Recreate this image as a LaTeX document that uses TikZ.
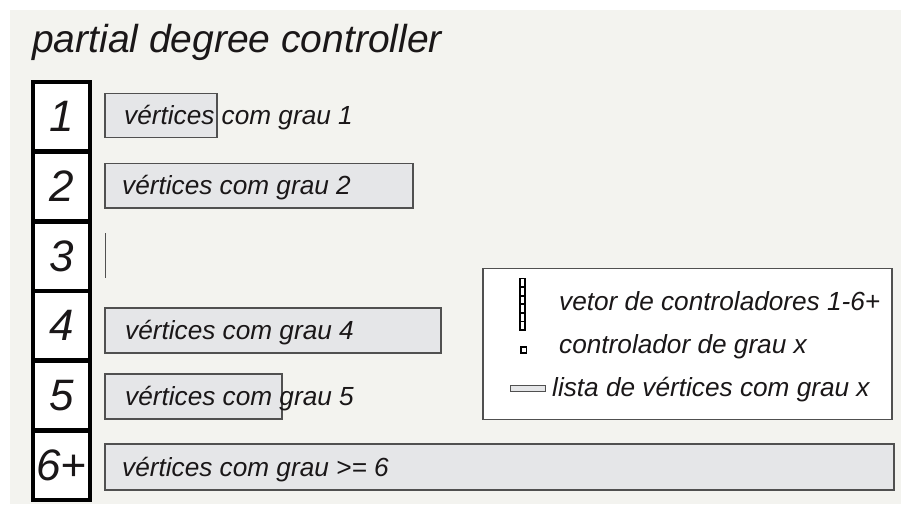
\documentclass[tikz,border=0pt]{standalone}
\usepackage{fontspec}
\setmainfont{Liberation Sans}
\definecolor{paper}{HTML}{F3F3EF}
\definecolor{listfill}{HTML}{E5E6E8}
\definecolor{listedge}{HTML}{505050}
\definecolor{ink}{HTML}{1A1718}
\begin{document}
\begin{tikzpicture}[x=1pt,y=-1pt,
  cell/.style={draw=black,line width=4.6pt,fill=white,minimum width=57pt,minimum height=69.7pt,
    inner sep=0pt,font=\fontsize{44}{48}\selectfont\itshape,text=ink},
  listbox/.style={draw=listedge,line width=1.1pt,fill=listfill},
  listtext/.style={anchor=base west,inner sep=0pt,font=\fontsize{26.2}{30}\selectfont\itshape,text=ink},
  ctrl/.style={draw=black,line width=1.7pt,fill=white}]
\useasboundingbox (0,0) rectangle (901,506);
\fill[paper] (10,10) rectangle (901,504);

% title
\node[anchor=base west,inner sep=0pt,font=\fontsize{39}{42}\selectfont\itshape,text=ink] (title) at (32,52) {partial degree controller};

% controller vector
\node[cell] (c1) at (61.5,116.8) {1};
\node[cell] (c2) at (61.5,186.5) {2};
\node[cell] (c3) at (61.5,256.2) {3};
\node[cell] (c4) at (61.5,325.8) {4};
\node[cell] (c5) at (61.5,395.5) {5};
\node[cell] (c6) at (61.5,465.2) {6+};

% vertex lists
\draw[listbox] (105,93.5) rectangle (217,137.5);
\node[listtext] (t1) at (124,124) {vértices com grau 1};
\draw[listbox] (105,163.5) rectangle (413,208);
\node[listtext] (t2) at (122,194) {vértices com grau 2};
\draw[draw=listedge,line width=1.1pt] (105.5,233) -- (105.5,278);
\draw[listbox] (105,308) rectangle (441,353);
\node[listtext] (t4) at (125,339.5) {vértices com grau 4};
\draw[listbox] (105,374) rectangle (282,419);
\node[listtext] (t5) at (125,405.5) {vértices com grau 5};
\draw[listbox] (105,444) rectangle (894,490);
\node[listtext] (t6) at (122,476) {vértices com grau >= 6};

% legend
\node[draw=listedge,line width=1.1pt,fill=white,minimum width=409pt,minimum height=151pt,inner sep=0pt] (legend) at (687.5,344) {};
\foreach \k in {0,...,5}
  \draw[ctrl] (519.7,278.5+8.6*\k) rectangle (525.3,278.5+8.6*\k+8.6);
\draw[ctrl] (521,347) rectangle (526.5,353);
\draw[listbox,line width=0.9pt] (510,385.5) rectangle (545,391.5);
\node[listtext] (l1) at (559,310) {vetor de controladores 1-6+};
\node[listtext] (l2) at (559,353) {controlador de grau x};
\node[listtext] (l3) at (552,396.5) {lista de vértices com grau x};
\end{tikzpicture}
\end{document}
